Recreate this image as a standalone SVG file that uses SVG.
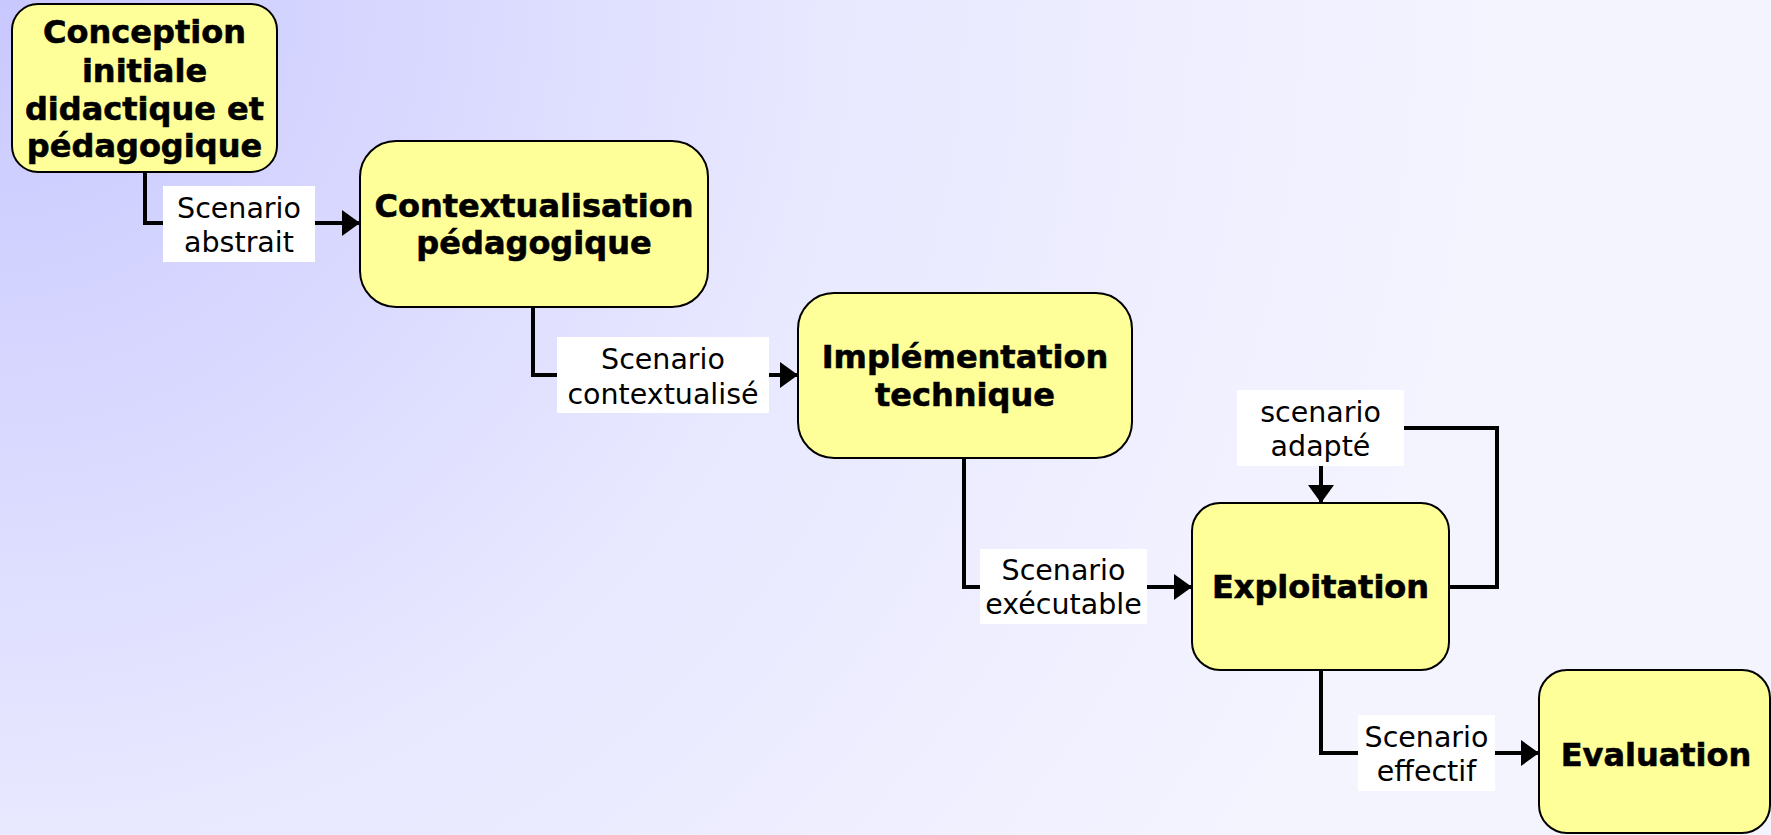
<svg xmlns="http://www.w3.org/2000/svg" width="1771" height="835" viewBox="0 0 1771 835">
  <defs>
    <radialGradient id="bg" cx="0" cy="0" r="1500" gradientUnits="userSpaceOnUse">
      <stop offset="0" stop-color="#c8c8ff"/>
      <stop offset="0.55" stop-color="#e8e8ff"/>
      <stop offset="1" stop-color="#f4f4ff"/>
    </radialGradient>
    <marker id="arrow" markerUnits="userSpaceOnUse" markerWidth="18" markerHeight="26" refX="18" refY="13" orient="auto">
      <path d="M0,0 L18,13 L0,26 Z" fill="#000"/>
    </marker>
    <style>
      .node rect { fill: #ffff99; stroke: #000; stroke-width: 2; }
      .node text { font-family: "DejaVu Sans", Verdana, sans-serif; font-weight: bold; font-size: 32px; text-anchor: middle; fill: #000; stroke: #000; stroke-width: 0.6; }
      .link { fill: none; stroke: #000; stroke-width: 4; }
      .lbl rect { fill: #fff; }
      .lbl text { font-family: "DejaVu Sans", Verdana, sans-serif; font-size: 28.5px; text-anchor: middle; fill: #000; }
    </style>
  </defs>

  <rect width="1771" height="835" fill="url(#bg)"/>

  <!-- connectors and their labels -->
  <g id="connectors">
    <path class="link" d="M145,172 V223 H360" marker-end="url(#arrow)"/>
    <path class="link" d="M533,307 V375 H798" marker-end="url(#arrow)"/>
    <path class="link" d="M964,458 V587 H1192" marker-end="url(#arrow)"/>
    <path class="link" d="M1449,587 H1497 V428 H1321 V503" marker-end="url(#arrow)"/>
    <path class="link" d="M1321,670 V753 H1539" marker-end="url(#arrow)"/>

    <g class="lbl">
      <rect x="163" y="186" width="152" height="76"/>
      <text x="239" y="218">Scenario</text>
      <text x="239" y="252">abstrait</text>
    </g>
    <g class="lbl">
      <rect x="557" y="337" width="212" height="76"/>
      <text x="663" y="369">Scenario</text>
      <text x="663" y="404">contextualisé</text>
    </g>
    <g class="lbl">
      <rect x="980" y="549" width="167" height="75"/>
      <text x="1063.5" y="580">Scenario</text>
      <text x="1063.5" y="614">exécutable</text>
    </g>
    <g class="lbl">
      <rect x="1237" y="390" width="167" height="76"/>
      <text x="1320.5" y="422">scenario</text>
      <text x="1320.5" y="456">adapté</text>
    </g>
    <g class="lbl">
      <rect x="1358" y="715" width="137" height="76"/>
      <text x="1426.5" y="747">Scenario</text>
      <text x="1426.5" y="781">effectif</text>
    </g>
  </g>

  <g id="conception" class="node">
    <rect x="12" y="4" width="265" height="168" rx="26"/>
    <text x="144.5" y="43">Conception</text>
    <text x="144.5" y="82">initiale</text>
    <text x="144.5" y="120">didactique et</text>
    <text x="144.5" y="157">pédagogique</text>
  </g>

  <g id="contextualisation" class="node">
    <rect x="360" y="141" width="348" height="166" rx="36"/>
    <text x="534" y="217">Contextualisation</text>
    <text x="534" y="254">pédagogique</text>
  </g>

  <g id="implementation" class="node">
    <rect x="798" y="293" width="334" height="165" rx="36"/>
    <text x="965" y="368">Implémentation</text>
    <text x="965" y="406">technique</text>
  </g>

  <g id="exploitation" class="node">
    <rect x="1192" y="503" width="257" height="167" rx="28"/>
    <text x="1320.5" y="598">Exploitation</text>
  </g>

  <g id="evaluation" class="node">
    <rect x="1539" y="670" width="231" height="163" rx="28"/>
    <text x="1656" y="766">Evaluation</text>
  </g>
</svg>
